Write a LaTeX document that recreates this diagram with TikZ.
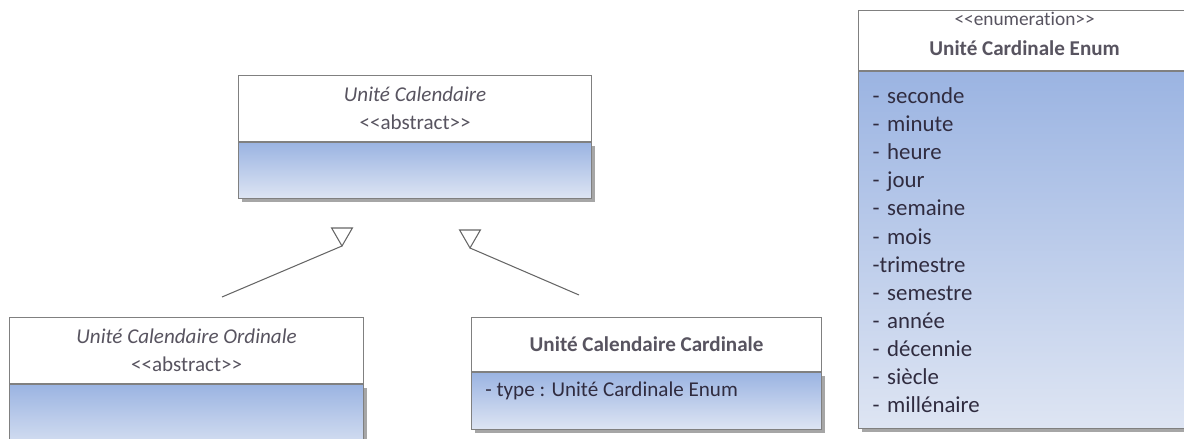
\documentclass[tikz,border=0pt]{standalone}
\usepackage{fontspec}
\setmainfont{Carlito}[Ligatures=NoCommon]
\usetikzlibrary{shapes.geometric,shadows}
\definecolor{umlline}{RGB}{128,128,128}
\definecolor{umltitle}{RGB}{88,84,96}
\definecolor{umlitem}{RGB}{48,44,64}
\definecolor{umltop}{RGB}{155,180,226}
\definecolor{umlbottom}{RGB}{222,229,243}
\newcommand{\umlstereo}[1]{<\kern0pt<#1>\kern0pt>}
\tikzset{
header/.style={draw=umlline, line width=0.7pt, fill=white, anchor=north west,
  align=center, text=umltitle, inner sep=0pt, font=\fontsize{12}{16}\selectfont},
compartment/.style={draw=umlline, line width=0.7pt, anchor=north west,
  top color=umltop, bottom color=umlbottom, inner sep=0pt,
  drop shadow={shadow xshift=0.07cm, shadow yshift=-0.07cm, fill=black, opacity=0.35}},
attr/.style={text=umlitem, font=\fontsize{12}{16}\selectfont},
genhead/.style={regular polygon, regular polygon sides=3, shape border rotate=180,
  draw=umlline!80!black, line width=0.6pt, fill=white, minimum size=0.48cm,
  inner sep=0pt, outer sep=0pt},
genline/.style={draw=umlline!80!black, line width=0.6pt}
}
\begin{document}
\begin{tikzpicture}[x=0.02cm, y=-0.02cm]
\useasboundingbox (0,0) rectangle (1184,439);
\clip (0,0) rectangle (1184,439);
% Unité Calendaire
\node[header, minimum width=7.06cm, minimum height=1.32cm] (cal) at (238,75)
  {\textit{Unité Calendaire}\\\umlstereo{abstract}};
\node[compartment, minimum width=7.06cm, minimum height=1.12cm] (calattr)
  at (cal.south west) {};
% Unité Calendaire Ordinale
\node[header, minimum width=7.08cm, minimum height=1.32cm] (ord) at (9,317)
  {\textit{Unité Calendaire Ordinale}\\\umlstereo{abstract}};
\node[compartment, minimum width=7.08cm, minimum height=1.4cm] (ordattr)
  at (ord.south west) {};
% Unité Calendaire Cardinale
\node[header, minimum width=7cm, minimum height=1.08cm,
  font=\fontsize{12}{16}\selectfont\bfseries] (card) at (471,317)
  {Unité Calendaire Cardinale};
\node[compartment, minimum width=7cm, minimum height=1.14cm] (cardattr)
  at (card.south west) {};
\node[attr, anchor=west, inner sep=0pt] (cardtype) at (485,391)
  {- type : Unité Cardinale Enum};
% Unité Cardinale Enum
\node[header, minimum width=6.64cm, minimum height=1.2cm,
  font=\fontsize{12}{17}\selectfont] (enum) at (858,10)
  {{\fontsize{11}{17}\selectfont\umlstereo{enumeration}}\\
   \textbf{Unité Cardinale Enum}\rule[-8pt]{0pt}{8pt}};
\node[compartment, attr, minimum width=6.64cm, minimum height=7.14cm,
  text width=6.08cm, align=left, inner xsep=0.28cm,
  font=\fontsize{13}{16}\selectfont] (enumattr) at (enum.south west)
  {- seconde\\- minute\\- heure\\- jour\\- semaine\\- mois\\-trimestre\\
   - semestre\\- année\\- décennie\\- siècle\\- millénaire};
% generalisations
\node[genhead] (genleft) at (342,234) {};
\node[genhead] (genright) at (470,236) {};
\coordinate (ordend) at (222,297);
\coordinate (cardend) at (579,295);
\draw[genline] (ordend) -- (genleft.corner 1);
\draw[genline] (cardend) -- (genright.corner 1);
\end{tikzpicture}
\end{document}
